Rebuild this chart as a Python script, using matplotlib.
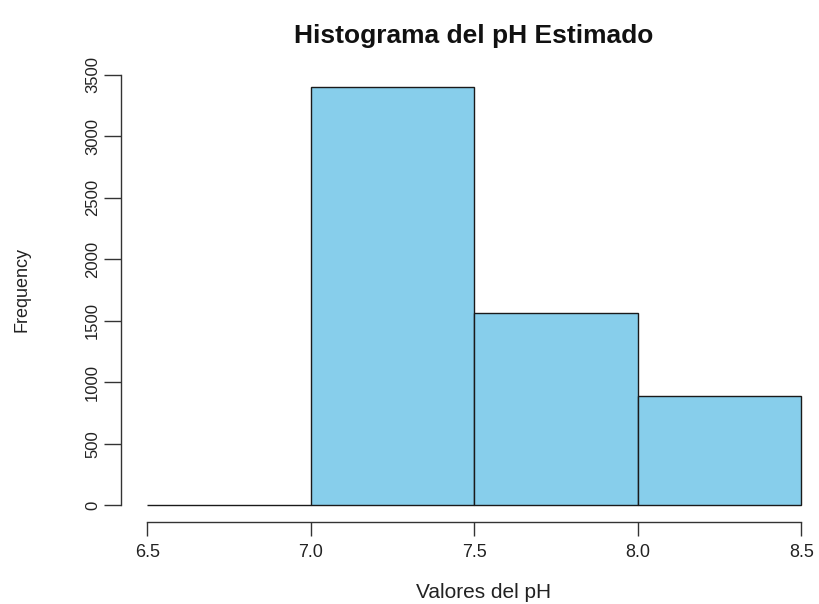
import matplotlib
matplotlib.use('Agg')
import matplotlib.pyplot as plt
import numpy as np

# pH histogram: bins of 0.5 between 6.5 and 8.5
bin_edges = [6.5, 7.0, 7.5, 8.0, 8.5]
counts = [0, 3400, 1560, 888]
y_ticks = [0, 500, 1000, 1500, 2000, 2500, 3000, 3500]
x_ticks = [6.5, 7.0, 7.5, 8.0, 8.5]

plt.rcParams['font.family'] = ['Liberation Sans', 'DejaVu Sans']
txt = '#222222'
W, H = 819, 604

fig = plt.figure(figsize=(W / 100, H / 100), dpi=100)
# plot region like R's default: 4% padding on both axes
ax = fig.add_axes([121 / W, 82 / H, 706.5 / W, 451.6 / H])

edges = np.array(bin_edges)
ax.bar(edges[:-1], counts, width=np.diff(edges), align='edge',
       color='#87CEEB', edgecolor='#1a1a1a', linewidth=1.0)

xr = edges[-1] - edges[0]
ax.set_xlim(edges[0] - 0.04 * xr, edges[-1] + 0.04 * xr)
ymax = max(counts)
ax.set_ylim(-0.04 * ymax, 1.04 * ymax)

for s in ['top', 'right']:
    ax.spines[s].set_visible(False)
ax.spines['left'].set_bounds(y_ticks[0], y_ticks[-1])
ax.spines['bottom'].set_bounds(x_ticks[0], x_ticks[-1])
for s in ['left', 'bottom']:
    ax.spines[s].set_color('#333333')
    ax.spines[s].set_linewidth(1.0)

ax.set_yticks(y_ticks)
ax.set_yticklabels([str(v) for v in y_ticks], rotation=90, va='center')
ax.set_xticks(x_ticks)
ax.set_xticklabels([f'{v:.1f}' for v in x_ticks])
ax.tick_params(axis='y', length=12, width=1.0, color='#333333', pad=3,
               labelsize=12, labelcolor=txt)
ax.tick_params(axis='x', length=10, width=1.0, color='#333333', pad=6,
               labelsize=13, labelcolor=txt)

fig.text(474 / W, 1 - 43 / H, 'Histograma del pH Estimado', fontsize=19,
         fontweight='bold', color='#111111', ha='center', va='baseline')
fig.text(484 / W, 1 - 598 / H, 'Valores del pH', fontsize=15, color=txt,
         ha='center', va='baseline')
fig.text(22 / W, 1 - 290 / H, 'Frequency', fontsize=13, color=txt,
         rotation=90, ha='center', va='center')

fig.savefig('out.png', dpi=100)
